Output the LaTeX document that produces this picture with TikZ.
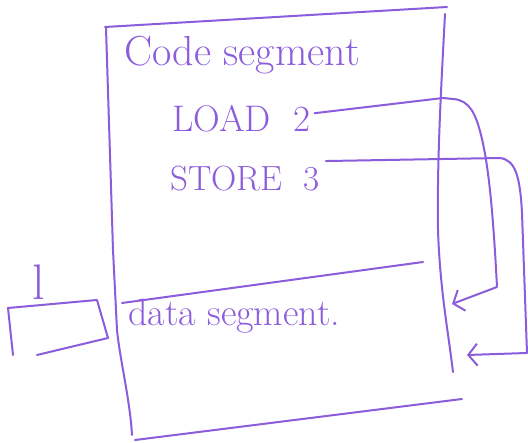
\documentclass[tikz,border=0pt]{standalone}
\usetikzlibrary{arrows.meta}
\definecolor{ink}{RGB}{139,92,219}
\begin{document}
\begin{tikzpicture}[x=1pt,y=-1pt,
  pen/.style={draw=ink,line width=2pt,line cap=round,line join=round},
  conn/.style={pen,-{Straight Barb[length=9pt,width=22pt,line width=2pt]}},
  label/.style={text=ink,inner sep=0pt,anchor=base west}]
\useasboundingbox (0,0) rectangle (528,443);

% memory block: frame, divider between the two segments
\draw[pen] (105,27) -- (447,7);
\draw[pen] (445,14) .. controls (441,90) and (437,160) .. (438,230)
  .. controls (440,290) and (448,330) .. (453,372);
\draw[pen] (106,28) -- (113,250) -- (117,330)
  .. controls (120,360) and (130,400) .. (132,435);
\draw[pen] (135,440) -- (462,399);
\draw[pen] (122,303) -- (423,262);

% segment labels and instructions
\node[label,font=\fontsize{42}{44}\selectfont] (code) at (124,66) {Code segment};
\node[label,font=\fontsize{37}{40}\selectfont] (load) at (172,132) {LOAD\ \ 2};
\node[label,font=\fontsize{35}{40}\selectfont] (store) at (170,191) {STORE\ \ 3};
\node[label,font=\fontsize{38}{40}\selectfont] (data) at (128,326) {data segment.};

% small register box on the left
\node[label,font=\fontsize{50}{50}\selectfont] (ell) at (32,300) {l};
\draw[pen] (13,355) -- (8,308) -- (97,300) -- (108,338) -- (37,355);

% operand references into the data segment
\coordinate (tipA) at (452,304);
\coordinate (tipB) at (467,355);
\draw[conn] ([xshift=4pt,yshift=6pt]load.east) -- (443,98) -- (453,99)
  .. controls (470,100) and (476,115) .. (481,135)
  .. controls (490,170) and (494,230) .. (497,287) -- (tipA);
\draw[conn] ([xshift=6pt,yshift=18pt]store.east) -- (500,158)
  .. controls (515,160) and (520,175) .. (522,213)
  -- (527,353) -- (tipB);
\end{tikzpicture}
\end{document}
